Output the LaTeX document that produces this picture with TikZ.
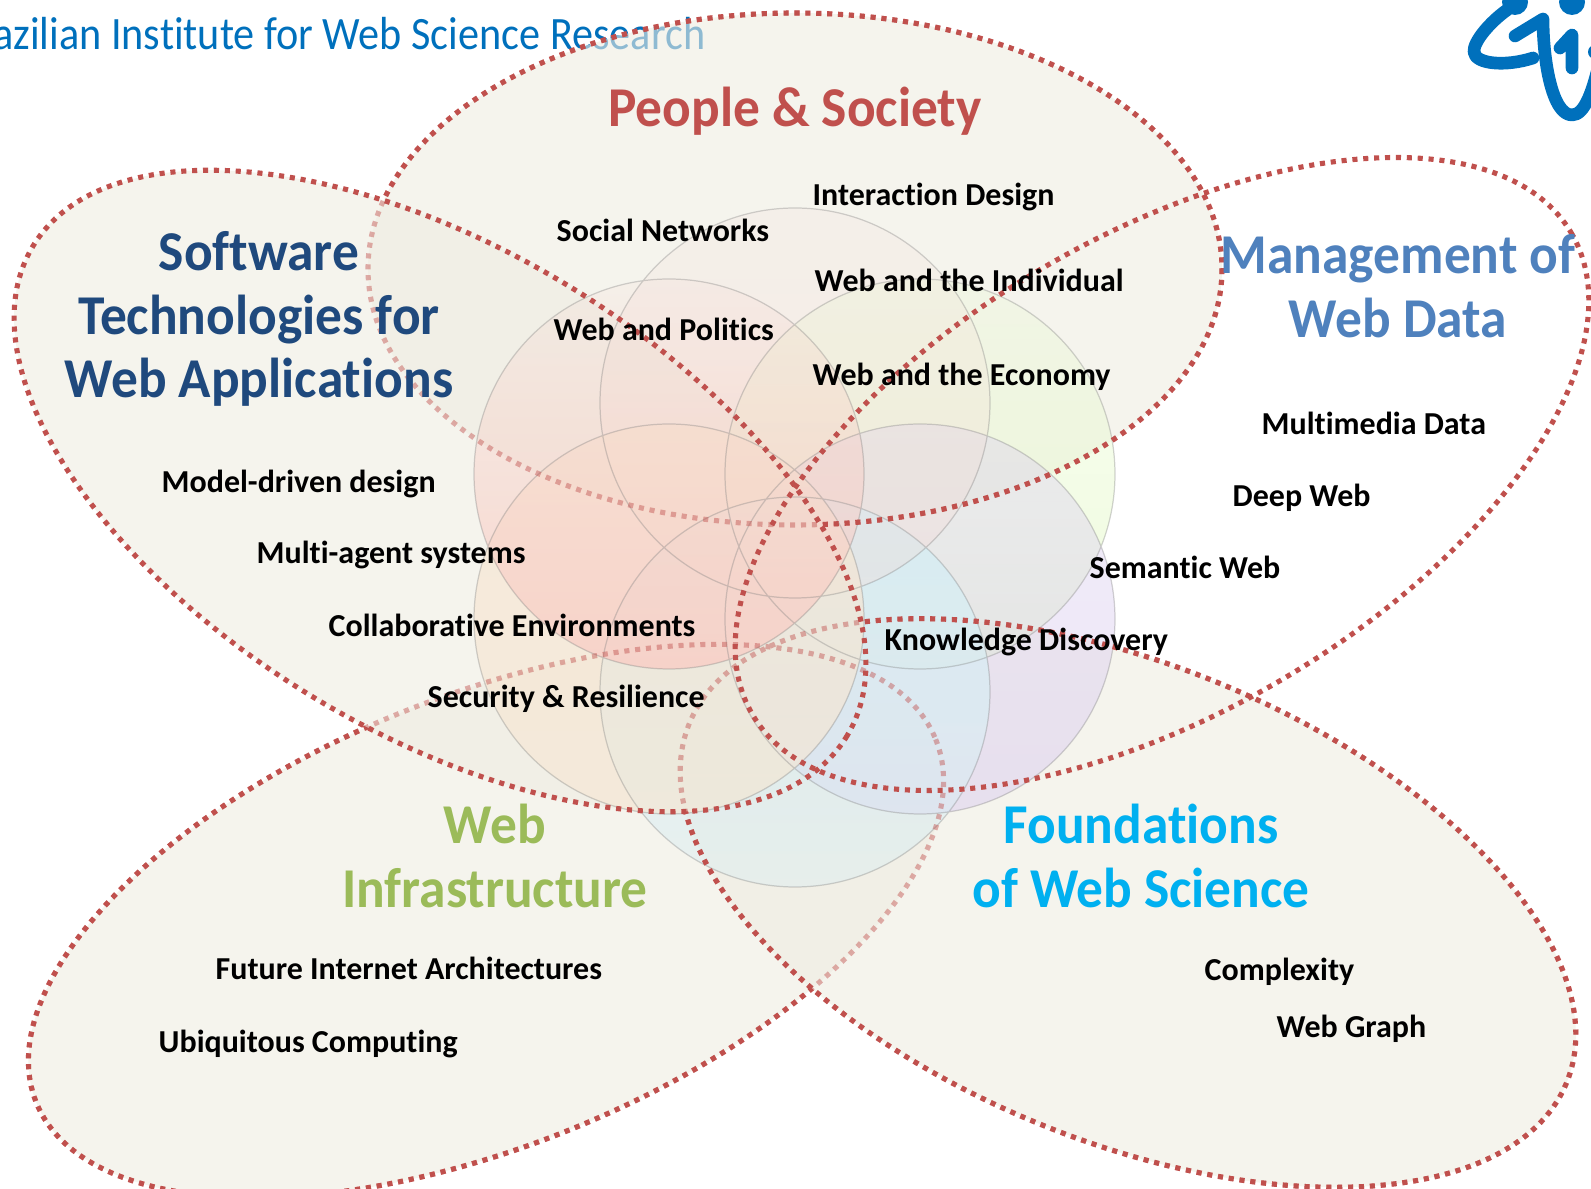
\documentclass[tikz,border=0pt]{standalone}
\usepackage{fontspec}
\usetikzlibrary{fadings}
\setmainfont[Ligatures=NoCommon]{Carlito}
\newfontfamily\titlefont[Ligatures=NoCommon,FakeStretch=0.95]{Carlito}
\newfontfamily\bannerfont[Ligatures=NoCommon,FakeStretch=0.91]{Carlito}
\definecolor{brickred}{HTML}{C0504D}
\definecolor{softblue}{HTML}{1F497D}
\definecolor{datablue}{HTML}{4F81BD}
\definecolor{infragreen}{HTML}{9BBB59}
\definecolor{foundcyan}{HTML}{00B0F0}
\definecolor{beige}{HTML}{EEECE1}
\definecolor{logoblue}{HTML}{0070BC}
\definecolor{rosea}{HTML}{F5DAD5}
\definecolor{roseb}{HTML}{F9CDC5}
\definecolor{limea}{HTML}{E8FAD0}
\definecolor{sanda}{HTML}{F6E6D2}
\definecolor{lilaca}{HTML}{DCD0F0}
\definecolor{aquaa}{HTML}{D8EDF3}
\tikzfading[name=risefade,top color=transparent!90,bottom color=transparent!20]
\tikzfading[name=softfade,top color=transparent!62,bottom color=transparent!45]
\tikzfading[name=palefade,top color=transparent!85,bottom color=transparent!65]
\tikzfading[name=limefade,top color=transparent!75,bottom color=transparent!25]
\tikzfading[name=dropfade,top color=transparent!0,bottom color=transparent!60]
\tikzfading[name=sandfade,top color=transparent!30,bottom color=transparent!40]
\newcommand\peopleshape{(795,269) ellipse [x radius=427,y radius=256]}
\newcommand\softwareshape{(440,491) ellipse [x radius=475,y radius=242,rotate=-31]}
\newcommand\managementshape{(1162,474) ellipse [x radius=475,y radius=238,rotate=30.5]}
\newcommand\infrashape{(486,921) ellipse [x radius=485,y radius=225,rotate=22]}
\newcommand\foundshape{(1128,903) ellipse [x radius=474,y radius=238,rotate=-22.3]}
\tikzset{
  vennline/.style={draw=brickred,line width=1.45pt,dash pattern=on 1.45pt off 1.65pt},
  venntone/.style={fill=beige,fill opacity=0.6},
  ring/.style={draw=gray,draw opacity=0.35,line width=0.35pt},
  heading/.style={font=\titlefont\fontsize{16}{18.1}\selectfont\bfseries,align=center},
  topic/.style={font=\fontsize{9.1}{11}\selectfont\bfseries,anchor=base west,text=black,inner sep=0pt},
  logostroke/.style={draw=logoblue,line width=3.6pt,line cap=round,line join=round}
}
\begin{document}
\begin{tikzpicture}[x=0.1mm,y=-0.1mm]
    \useasboundingbox (0,0) rectangle (1591,1189);
    % header
    \node[anchor=east,inner sep=0pt,text=logoblue,font=\bannerfont\fontsize{13.2}{16}\selectfont] (institute) at (706,34) {Brazilian Institute for Web Science Research};
    \draw[logostroke] (1507,10) .. controls (1490,22) and (1473,42) .. (1474,52) .. controls (1475,64) and (1505,67) .. (1533,58);
    \draw[logostroke] (1515,36) -- (1543,19) .. controls (1543,60) and (1552,115) .. (1572,115) .. controls (1585,115) and (1593,90) .. (1600,60);
    \draw[logostroke] (1560,48) -- (1572,35) -- (1572,68);
    \fill[logoblue] (1515,2) circle (13) (1572,2) circle (13) (1595,52) circle (7);
    % ellipses
    \path[venntone] \infrashape;
    \path[venntone] \foundshape;
    \path[venntone] \peopleshape;
    \path[venntone] \softwareshape;
    % circles
    \fill[limea,path fading=limefade] (920,474) circle (195);
    \fill[lilaca,path fading=softfade] (920,619) circle (195);
    \fill[aquaa,path fading=dropfade] (795,692) circle (195);
    \fill[rosea,path fading=palefade] (795,403) circle (195);
    \fill[sanda,path fading=sandfade] (669,619) circle (195);
    \fill[roseb,path fading=risefade] (669,474) circle (195);
    \draw[ring] (920,474) circle (195) (920,619) circle (195) (795,692) circle (195)
      (795,403) circle (195) (669,619) circle (195) (669,474) circle (195);
    % faded borders, then the bright parts
    \path[vennline,draw opacity=0.45] \infrashape \foundshape \peopleshape;
    \begin{scope}[even odd rule]
      \clip (0,0) rectangle (1591,1189) \softwareshape;
      \path[vennline] \foundshape;
      \path[vennline] \peopleshape;
      \clip (0,0) rectangle (1591,1189) \foundshape;
      \path[vennline] \infrashape;
    \end{scope}
    \path[vennline] \softwareshape;
    \path[vennline] \managementshape;
    % titles
    \node[heading,text=brickred] (people) at (795,111) {People \& Society};
    \node[heading,text=softblue] (software) at (259,319) {Software\\Technologies for\\Web Applications};
    \node[heading,text=datablue] (management) at (1398,286) {Management of\\Web Data};
    \node[heading,text=infragreen] (infrastructure) at (495,856) {Web\\Infrastructure};
    \node[heading,text=foundcyan] (foundations) at (1141,856) {Foundations\\of Web Science};
    % topics
    \node[topic] (interaction) at (812,206) {Interaction Design};
    \node[topic] (social) at (556,242) {Social Networks};
    \node[topic] (individual) at (814,292) {Web and the Individual};
    \node[topic] (politics) at (553,341) {Web and Politics};
    \node[topic] (economy) at (812,386) {Web and the Economy};
    \node[topic] (multimedia) at (1261,435) {Multimedia Data};
    \node[topic] (model) at (161,493) {Model-driven design};
    \node[topic] (deepweb) at (1232,507) {Deep Web};
    \node[topic] (agents) at (256,564) {Multi-agent systems};
    \node[topic] (semantic) at (1089,579) {Semantic Web};
    \node[topic] (collab) at (328,637) {Collaborative Environments};
    \node[topic] (knowledge) at (884,651) {Knowledge Discovery};
    \node[topic] (security) at (427,708) {Security \& Resilience};
    \node[topic] (future) at (215,980) {Future Internet Architectures};
    \node[topic] (complexity) at (1204,981) {Complexity};
    \node[topic] (webgraph) at (1276,1038) {Web Graph};
    \node[topic] (ubiquitous) at (158,1053) {Ubiquitous Computing};
  \end{tikzpicture}
\end{document}
